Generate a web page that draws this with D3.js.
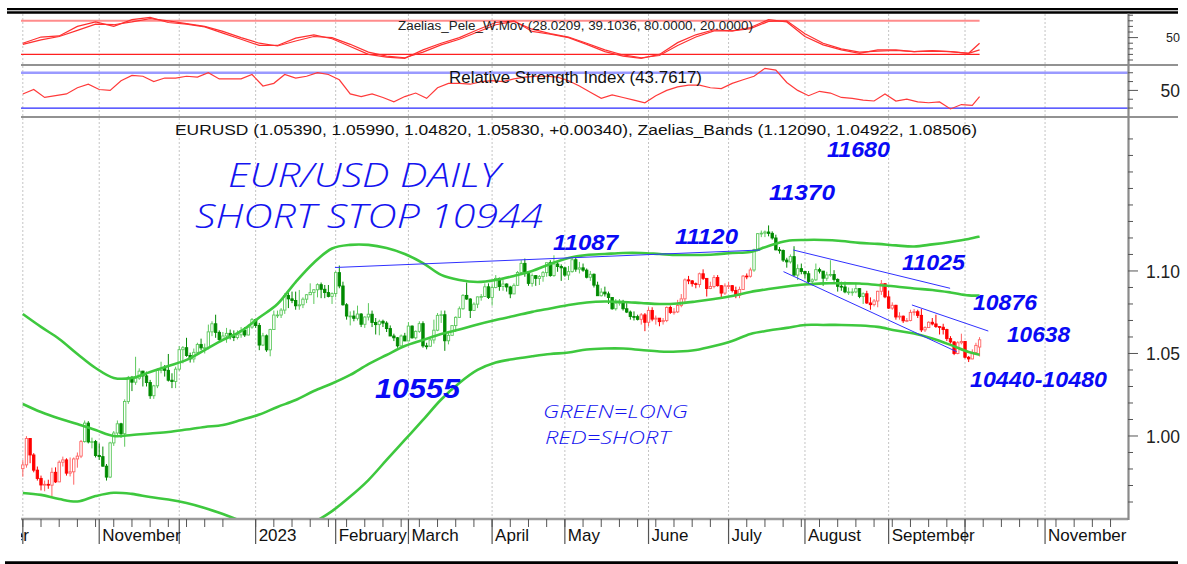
<!DOCTYPE html>
<html>
<head>
<meta charset="utf-8">
<script src="https://cdn.jsdelivr.net/npm/d3@7"></script>
<style>
  html, body { margin: 0; padding: 0; background: #fff; }
  svg { display: block; font-family: Arial, "Liberation Sans", sans-serif; }
</style>
</head>
<body>
<svg id="chart" width="1187" height="564"></svg>
<script>
// ---- data (prices in pips: 10583 = 1.0583) ----
const firstBarDay = "2022-10-03";
const holidays = ["2022-12-26"];

const opens = [
  9802,9825,9985,9885,9793,9743,9703,9707,9702,9780,9722,9841,9855,9775,9783,9861,9878,9966,10078,9964,9966,
  9882,9875,9817,9751,9958,10018,10074,10014,10209,10355,10326,10350,10393,10364,10324,10244,10304,10397,10408,10398,10338,10330,
  10405,10523,10535,10488,10467,10507,10555,10534,10535,10631,10680,10628,10585,10606,10622,10604,10597,10613,10639,10612,10660,
  10705,10670,10551,10607,10522,10645,10733,10733,10763,10851,10831,10821,10789,10795,10829,10856,10870,10886,10917,10889,10869,10846,
  10863,10990,10909,10795,10727,10727,10713,10739,10677,10721,10738,10688,10675,10695,10684,10651,10606,10595,10546,10606,
  10576,10666,10595,10634,10681,10546,10544,10582,10641,10731,10735,10577,10610,10669,10719,10771,10852,10830,10761,10799,10843,10845,10904,
  10839,10900,10955,10906,10921,10903,10861,10913,10991,11046,10993,10925,10972,10955,10966,10990,11050,10972,11042,11027,
  11019,10975,10996,11068,11011,11019,11005,10962,10980,10914,10850,10872,10861,10839,10771,10805,10815,10771,10751,10724,10723,10707,10734,
  10689,10761,10708,10714,10693,10700,10779,10749,10752,10791,10831,10946,10940,10923,10918,10983,10955,10894,10906,10960,10911,10866,
  10909,10911,10882,10853,10888,10969,10968,11006,11129,11226,11229,11236,11228,11200,11128,11124,11066,11055,11087,10975,11014,
  10997,10983,10937,10946,11008,10999,10956,10976,10979,10949,10907,10903,10873,10873,10873,10893,10846,10862,10806,10796,10818,10877,10923,
  10843,10775,10792,10721,10726,10698,10700,10749,10753,10731,10643,10657,10689,10679,10663,10659,10645,10590,10570,10500,10565,
  10573,10477,10467,10505,10539
];
const highs = [
  9854,9999,9987,9896,9815,9760,9730,9735,9808,9810,9852,9875,9865,9870,9870,9900,9976,10094,10090,9990,9976,
  9954,9936,9830,9965,10030,10094,10080,10222,10364,10364,10480,10410,10395,10390,10340,10310,10410,10450,10430,10497,10380,10420,
  10545,10545,10595,10505,10530,10565,10590,10560,10675,10695,10735,10640,10630,10655,10645,10640,10640,10660,10660,10675,10715,
  10710,10685,10625,10615,10650,10760,10760,10775,10865,10870,10875,10875,10885,10840,10860,10925,10890,10925,10930,10915,10915,10870,
  10998,11033,10935,10805,10755,10760,10790,10745,10725,10805,10760,10715,10705,10705,10695,10670,10620,10600,10615,10625,
  10690,10670,10640,10695,10695,10565,10590,10705,10745,10760,10760,10635,10670,10725,10785,10860,10930,10835,10810,10845,10860,10925,10925,
  10920,10975,10960,10945,10925,10910,10925,11000,11065,11075,10995,10985,10975,10975,11000,11050,11065,11095,11055,11040,
  11025,11030,11080,11090,11055,11045,11015,11000,10985,10935,10895,10905,10875,10840,10830,10830,10825,10805,10760,10755,10735,10745,10745,
  10780,10780,10730,10715,10715,10785,10790,10775,10825,10860,10955,10970,10945,10930,10990,11010,10955,10935,10975,10975,10915,10925,
  10935,10915,10905,10905,10975,10985,11020,11135,11230,11245,11245,11276,11240,11220,11145,11130,11080,11100,11150,11040,11045,
  11000,11000,10955,11045,11020,11000,10995,11065,11005,10955,10935,10935,10900,10895,10930,10895,10870,10880,10840,10830,10880,10945,10925,
  10880,10810,10795,10750,10730,10715,10765,10770,10765,10770,10665,10695,10715,10735,10665,10680,10650,10605,10575,10575,10620,
  10575,10485,10525,10565,10599
];
const lows = [
  9753,9808,9835,9780,9730,9670,9665,9680,9632,9715,9720,9815,9760,9755,9705,9808,9866,9960,9955,9925,9870,
  9855,9815,9730,9745,9940,10005,9990,9935,10195,10272,10310,10340,10300,10300,10225,10225,10290,10380,10360,10330,10290,10290,
  10395,10440,10480,10445,10445,10500,10520,10500,10525,10605,10595,10570,10575,10565,10585,10575,10585,10595,10600,10610,10650,
  10655,10520,10545,10510,10483,10645,10715,10715,10740,10775,10805,10765,10765,10775,10805,10855,10800,10840,10835,10835,10840,10800,
  10840,10895,10790,10705,10670,10695,10700,10660,10655,10700,10660,10615,10610,10660,10630,10605,10575,10535,10535,10575,
  10575,10590,10585,10625,10535,10525,10540,10560,10635,10685,10516,10555,10610,10630,10715,10765,10825,10715,10760,10775,10820,10845,10830,
  10790,10895,10880,10880,10875,10835,10860,10910,10985,10965,10910,10905,10910,10915,10935,10965,10965,10965,10995,10940,
  10965,10945,10990,10995,10985,10995,10955,10940,10900,10850,10845,10845,10800,10765,10760,10790,10760,10745,10705,10700,10700,10675,10635,
  10665,10695,10675,10665,10675,10690,10740,10735,10745,10780,10810,10920,10905,10895,10900,10945,10845,10890,10895,10905,10835,10855,
  10890,10870,10835,10835,10885,10950,10960,10995,11120,11205,11205,11210,11190,11125,11105,11055,11020,11045,10970,10945,10980,
  10955,10915,10910,10940,10985,10910,10940,10965,10935,10875,10880,10865,10855,10850,10865,10835,10800,10800,10765,10785,10780,10855,10835,
  10770,10765,10705,10705,10685,10690,10695,10730,10715,10630,10630,10655,10670,10655,10615,10615,10575,10560,10490,10495,10555,
  10470,10448,10465,10495,10482
];
const closes = [
  9825,9985,9885,9793,9743,9703,9707,9702,9780,9722,9841,9855,9775,9783,9861,9878,9966,10078,9964,9966,9882,
  9875,9817,9751,9958,10018,10074,10014,10209,10355,10326,10350,10393,10364,10324,10244,10304,10397,10408,10398,10338,10330,10405,
  10523,10535,10488,10467,10507,10555,10534,10535,10631,10680,10628,10585,10606,10622,10604,10597,10613,10639,10612,10660,10705,
  10670,10551,10607,10522,10645,10733,10733,10763,10851,10831,10821,10789,10795,10829,10856,10870,10886,10917,10889,10869,10846,10863,
  10990,10909,10795,10727,10727,10713,10739,10677,10721,10738,10688,10675,10695,10684,10651,10606,10595,10546,10606,10576,
  10666,10595,10634,10681,10546,10544,10582,10641,10731,10735,10577,10610,10669,10719,10771,10852,10830,10761,10799,10843,10845,10904,10839,
  10900,10955,10906,10921,10903,10861,10913,10991,11046,10993,10925,10972,10955,10966,10990,11050,10972,11042,11027,11019,
  10975,10996,11068,11011,11019,11005,10962,10980,10914,10850,10872,10861,10839,10771,10805,10815,10771,10751,10724,10723,10707,10734,10689,
  10761,10708,10714,10693,10700,10779,10749,10752,10791,10831,10946,10940,10923,10918,10983,10955,10894,10906,10960,10911,10866,10909,
  10911,10882,10853,10888,10969,10968,11006,11129,11226,11229,11236,11228,11200,11128,11124,11066,11055,11087,10975,11014,10997,
  10983,10937,10946,11008,10999,10956,10976,10979,10949,10907,10903,10873,10873,10873,10893,10846,10862,10806,10796,10818,10877,10923,10843,
  10775,10792,10721,10726,10698,10700,10749,10753,10731,10643,10657,10689,10679,10663,10659,10645,10590,10570,10500,10565,10573,
  10477,10467,10505,10549,10583
];

// signal colouring: green = long, red = short
const signalStarts = ["2022-10-03", "2022-10-26", "2023-05-30", "2023-07-12", "2023-08-24"];
const signalSides = ["short", "long", "short", "long", "short"];

// Zaelias bands, one value every 5 bars (last one on the final bar)
const bandStep = 5;
const bandUpper = [1.0739,1.0661,1.0588,1.0497,1.0412,1.0352,1.0352,1.0388,1.0424,1.0461,
  1.0521,1.0582,1.0636,1.0718,1.0800,1.0933,1.1050,1.1136,1.1158,1.1158,
  1.1139,1.1103,1.1048,1.0976,1.0945,1.0933,1.0945,1.0970,1.1000,1.1042,
  1.1079,1.1097,1.1103,1.1109,1.1109,1.1103,1.1097,1.1097,1.1100,1.1109,
  1.1115,1.1152,1.1182,1.1188,1.1188,1.1182,1.1170,1.1164,1.1155,1.1148,
  1.1161,1.1176,1.1194,1.1209];
const bandMiddle = [1.0194,1.0145,1.0106,1.0073,1.0036,1.0000,1.0006,1.0015,1.0024,1.0039,
  1.0055,1.0067,1.0097,1.0130,1.0176,1.0218,1.0273,1.0318,1.0370,1.0436,
  1.0491,1.0545,1.0582,1.0618,1.0645,1.0676,1.0703,1.0727,1.0752,1.0773,
  1.0794,1.0809,1.0815,1.0812,1.0806,1.0800,1.0803,1.0815,1.0830,1.0848,
  1.0873,1.0891,1.0906,1.0918,1.0925,1.0925,1.0924,1.0915,1.0906,1.0894,
  1.0885,1.0870,1.0852,1.0851];
const bandLower = [0.9655,0.9643,0.9618,0.9603,0.9636,0.9656,0.9649,0.9630,0.9615,0.9594,
  0.9564,0.9527,0.9485,0.9455,0.9442,0.9448,0.9479,0.9545,0.9633,0.9733,
  0.9855,0.9976,1.0097,1.0221,1.0321,1.0400,1.0445,1.0467,1.0483,1.0497,
  1.0506,1.0524,1.0530,1.0530,1.0521,1.0512,1.0512,1.0521,1.0545,1.0576,
  1.0618,1.0639,1.0655,1.0673,1.0673,1.0673,1.0670,1.0661,1.0639,1.0621,
  1.0591,1.0552,1.0509,1.0492];

// Zaelias_Pele_W.Mov, two lines, every 5 bars
const peleFast = [40,51,53,70,78,70,82,86,77,74, 69,58,47,36,36,49,55,48,34,20,
  15,13,28,40,50,64,77,80,61,56, 50,38,25,17,13,20,41,55,64,62,
  68,82,78,52,37,28,22,28,28,25, 27,25,22,40];
const peleSlow = [38,46,52,63,74,73,78,84,80,75, 70,61,50,40,35,44,52,50,38,24,
  17,14,24,37,47,60,73,79,65,57, 51,40,28,19,14,18,36,51,62,62,
  66,79,80,57,40,30,24,26,27,25, 26,25,22,28];
const peleLevels = [80, 20];

// RSI, every 3 bars
const rsiStep = 3;
const rsiValues = [46,51,42,44,46,53,57,51,50,61, 67,66,60,64,64,66,65,70,63,63,
  63,68,55,58,68,64,66,70,68,62, 46,43,46,42,37,43,47,41,53,58,
  58,57,60,61,60,63,65,66,66,65, 61,55,48,41,45,42,39,36,44,50,
  54,56,56,53,52,58,62,66,75,73, 59,50,44,49,47,42,41,39,38,46,
  38,40,37,36,37,29,34,33,43];
const rsiLevels = [70, 30];

// hand drawn trend lines: bar position / price at each end
const trendFrom = [85.8, 211.8, 209.1, 244.4];
const trendFromPrice = [1.1021, 1.1127, 1.0996, 1.0794];
const trendTo = [202.7, 254.9, 256.7, 265.4];
const trendToPrice = [1.1127, 1.0895, 1.0511, 1.0636];

// axis text
const priceLabels = [1.00, 1.05, 1.10];
const hiddenMonthLabels = ["2022-10", "2022-12", "2023-10"];

// headers
const peleTitle = "Zaelias_Pele_W.Mov (28.0209, 39.1036, 80.0000, 20.0000)";
const rsiTitle = "Relative Strength Index (43.7617)";
const mainTitle = "EURUSD (1.05390, 1.05990, 1.04820, 1.05830, +0.00340), Zaelias_Bands (1.12090, 1.04922, 1.08506)";

// annotations written on the chart
const handNotes = ["EUR/USD DAILY", "SHORT STOP 10944", "GREEN=LONG", "RED=SHORT"];
const levelNotes = ["11680", "11370", "11087", "11120", "11025", "10876", "10638", "10440-10480", "10555"];

[opens, highs, lows].forEach(a => { if (a.length !== closes.length) throw new Error("OHLC length mismatch " + a.length); });

// ---- layout ----
const svg = d3.select("#chart");
const plotLeft = 21, plotRight = 1128;
const peleTop = 14, peleBottom = 65, rsiBottom = 117, mainBottom = 519;

// calendar of trading days, index 0 = first bar
const fmtDay = d3.utcFormat("%Y-%m-%d");
const fmtMonth = d3.utcFormat("%Y-%m");
const calendar = d3.utcDay.range(new Date(Date.UTC(2022, 8, 1)), new Date(Date.UTC(2023, 11, 1)))
    .filter(d => d.getUTCDay() % 6 !== 0 && !holidays.includes(fmtDay(d)));
const base = calendar.findIndex(d => fmtDay(d) === firstBarDay);
const idxOf = day => calendar.findIndex(d => fmtDay(d) === day) - base;
const lastBar = closes.length - 1;

const x = d3.scaleLinear().domain([-0.5, 303.8]).range([plotLeft, plotRight]);
const yPrice = d3.scaleLinear().domain([0.9497, 1.1933]).range([mainBottom, rsiBottom]);
const yPele = d3.scaleLinear().domain([0, 100]).range([65.6, 9.6]);
const yRsi = d3.scaleLinear().domain([0, 100]).range([134.55, 46.25]);

const signalIdx = signalStarts.map(idxOf);
const sideOf = i => signalSides[d3.bisectRight(signalIdx, i) - 1];

const bars = closes.map((c, i) => ({
    i, o: opens[i] / 1e4, h: highs[i] / 1e4, l: lows[i] / 1e4, c: c / 1e4, side: sideOf(i)
}));

const candleColor = d => {
    const up = d.c >= d.o;
    if (d.side === "long") return up ? "#5cc85c" : "#008a00";
    return up ? "#ff6464" : "#ff0000";
};

// clip regions
const defs = svg.append("defs");
const addClip = (id, x0, y0, x1, y1) => defs.append("clipPath").attr("id", id)
    .append("rect").attr("x", x0).attr("y", y0).attr("width", x1 - x0).attr("height", y1 - y0);
addClip("clipPele", plotLeft, peleTop, plotRight, peleBottom);
addClip("clipRsi", plotLeft, peleBottom, plotRight, rsiBottom);
addClip("clipMain", plotLeft, rsiBottom, plotRight, mainBottom);
addClip("clipLabels", plotLeft, mainBottom, plotRight + 2, 560);

// month starts and mondays
const monthStarts = calendar.filter((d, k) => k === 0 || d.getUTCMonth() !== calendar[k - 1].getUTCMonth())
    .map(d => ({ d, i: calendar.indexOf(d) - base }));
const mondays = calendar.filter(d => d.getUTCDay() === 1).map(d => calendar.indexOf(d) - base);

// dashed month grid
svg.append("g").selectAll("line")
    .data(monthStarts.filter(m => x(m.i) >= plotLeft && x(m.i) <= plotRight))
    .join("line")
    .attr("x1", m => x(m.i)).attr("x2", m => x(m.i))
    .attr("y1", peleTop).attr("y2", mainBottom)
    .attr("stroke", "#c4c4c4").attr("stroke-width", 1).attr("stroke-dasharray", "2,2");

// ---- Pele panel ----
const gPele = svg.append("g").attr("clip-path", "url(#clipPele)");
const dataEndX = x(lastBar);
gPele.selectAll("line.lvl").data(peleLevels).join("line")
    .attr("x1", plotLeft).attr("x2", dataEndX)
    .attr("y1", d => yPele(d)).attr("y2", d => yPele(d))
    .attr("stroke", d => d === 80 ? "#ff8c8c" : "#ff2020")
    .attr("stroke-width", d => d === 80 ? 2 : 1.3);

const sampleIdx = (k, step) => Math.min(k * step, lastBar);
const peleLine = d3.line().x((v, k) => x(sampleIdx(k, bandStep))).y(v => yPele(v));
[peleSlow, peleFast].forEach(series => {
    gPele.append("path").datum(series)
        .attr("fill", "none").attr("stroke", "#ff3030").attr("stroke-width", 1.2)
        .attr("d", peleLine);
});

// ---- RSI panel ----
const gRsi = svg.append("g").attr("clip-path", "url(#clipRsi)");
gRsi.selectAll("line.lvl").data(rsiLevels).join("line")
    .attr("x1", plotLeft).attr("x2", plotRight)
    .attr("y1", d => yRsi(d)).attr("y2", d => yRsi(d))
    .attr("stroke", d => d === 70 ? "#9a9aff" : "#2a2aff")
    .attr("stroke-width", d => d === 70 ? 2.4 : 1.3);
gRsi.append("path").datum(rsiValues)
    .attr("fill", "none").attr("stroke", "#ff3a3a").attr("stroke-width", 1.2)
    .attr("d", d3.line().x((v, k) => x(sampleIdx(k, rsiStep))).y(v => yRsi(v)));

// ---- main panel ----
const gMain = svg.append("g").attr("clip-path", "url(#clipMain)");
const candles = gMain.selectAll("g.candle").data(bars).join("g").attr("class", "candle");
candles.append("line")
    .attr("x1", d => x(d.i)).attr("x2", d => x(d.i))
    .attr("y1", d => yPrice(d.h)).attr("y2", d => yPrice(d.l))
    .attr("stroke", candleColor).attr("stroke-width", 1);
candles.append("rect")
    .attr("x", d => x(d.i) - 1.2).attr("width", 2.4)
    .attr("y", d => yPrice(Math.max(d.o, d.c)))
    .attr("height", d => Math.max(0.8, Math.abs(yPrice(d.o) - yPrice(d.c))))
    .attr("fill", d => d.c >= d.o ? "#fff" : candleColor(d))
    .attr("stroke", candleColor).attr("stroke-width", 0.9);

const bandLine = d3.line().curve(d3.curveCatmullRom)
    .x((v, k) => x(sampleIdx(k, bandStep))).y(v => yPrice(v));
[bandUpper, bandMiddle, bandLower].forEach(series => {
    gMain.append("path").datum(series)
        .attr("fill", "none").attr("stroke", "#3ec83e").attr("stroke-width", 2.6)
        .attr("d", bandLine);
});

gMain.selectAll("line.trend").data(trendFrom).join("line")
    .attr("x1", (d, k) => x(d)).attr("y1", (d, k) => yPrice(trendFromPrice[k]))
    .attr("x2", (d, k) => x(trendTo[k])).attr("y2", (d, k) => yPrice(trendToPrice[k]))
    .attr("stroke", "#3030ff").attr("stroke-width", 1);

// ---- frames ----
const hline = (y, x1, x2, color, w) => svg.append("line")
    .attr("x1", x1).attr("x2", x2).attr("y1", y).attr("y2", y)
    .attr("stroke", color).attr("stroke-width", w);
hline(9.2, 7, 1178, "#000", 2.3);
hline(12.5, 7, 1178, "#000", 2.3);
hline(65, plotLeft, 1178, "#6e6e6e", 1.5);
hline(117, plotLeft, 1178, "#6e6e6e", 1.5);
hline(mainBottom, plotLeft, plotRight, "#9a9a9a", 2.4);
hline(562.6, 5, 1178, "#000", 2.6);
svg.append("line").attr("x1", plotRight + 0.5).attr("x2", plotRight + 0.5)
    .attr("y1", 13.5).attr("y2", mainBottom + 1)
    .attr("stroke", "#8a8a8a").attr("stroke-width", 2.2);

// ---- right axes ----
const rightTicks = (scale, values, majors) => {
    svg.append("g").selectAll("line").data(values).join("line")
        .attr("x1", plotRight).attr("x2", d => plotRight + (majors.includes(d) ? 10 : 5))
        .attr("y1", d => scale(d)).attr("y2", d => scale(d))
        .attr("stroke", "#555").attr("stroke-width", 1);
};
rightTicks(yPele, d3.range(10, 100, 10), [50]);
rightTicks(yRsi, d3.range(30, 80, 10), [50]);
const priceTicks = d3.range(96, 119).map(v => v / 100);
rightTicks(yPrice, priceTicks, priceLabels);

svg.append("text").attr("x", 1180).attr("y", yPele(50) + 4.6)
    .attr("text-anchor", "end").attr("font-size", 12.5).attr("fill", "#222").text("50");
svg.append("text").attr("x", 1180).attr("y", yRsi(50) + 6.4)
    .attr("text-anchor", "end").attr("font-size", 17.5).attr("fill", "#222").text("50");
svg.append("g").selectAll("text").data(priceLabels).join("text")
    .attr("x", 1180).attr("y", d => yPrice(d) + 7)
    .attr("text-anchor", "end").attr("font-size", 17.5).attr("fill", "#222")
    .text(d => d3.format(".2f")(d));

// ---- bottom axis ----
svg.append("g").selectAll("line").data(mondays.filter(i => x(i) >= plotLeft && x(i) <= plotRight)).join("line")
    .attr("x1", i => x(i)).attr("x2", i => x(i))
    .attr("y1", mainBottom).attr("y2", mainBottom + 8)
    .attr("stroke", "#555").attr("stroke-width", 1);
svg.append("g").selectAll("line").data(monthStarts.filter(m => x(m.i) >= plotLeft - 1 && x(m.i) <= plotRight)).join("line")
    .attr("x1", m => x(m.i)).attr("x2", m => x(m.i))
    .attr("y1", mainBottom).attr("y2", mainBottom + 25)
    .attr("stroke", "#555").attr("stroke-width", 1.2);
svg.append("g").attr("clip-path", "url(#clipLabels)")
    .selectAll("text").data(monthStarts.filter(m => !hiddenMonthLabels.includes(fmtMonth(m.d)) && x(m.i) < plotRight))
    .join("text")
    .attr("x", m => x(m.i) + 3).attr("y", 541)
    .attr("font-size", 17).attr("fill", "#111")
    .text(m => m.d.getUTCMonth() === 0 ? d3.utcFormat("%Y")(m.d) : d3.utcFormat("%B")(m.d));

// ---- titles ----
const fitText = (str, x0, y0, size, len, color) => svg.append("text")
    .attr("x", x0).attr("y", y0).attr("font-size", size).attr("fill", color)
    .attr("textLength", len).attr("lengthAdjust", "spacingAndGlyphs").text(str);
fitText(peleTitle, 398, 30, 12.5, 355, "#222");
fitText(rsiTitle, 449, 83.3, 17, 253, "#111");
fitText(mainTitle, 175, 135, 15.5, 802, "#111");

// ---- annotations ----
const handPos = [[228, 187, 33, 272], [195, 228, 33, 348], [543, 418, 18, 145], [545, 444, 18, 125]];
svg.append("g").selectAll("text").data(handNotes).join("text")
    .attr("x", (d, k) => handPos[k][0]).attr("y", (d, k) => handPos[k][1])
    .attr("font-size", (d, k) => handPos[k][2])
    .attr("textLength", (d, k) => handPos[k][3]).attr("lengthAdjust", "spacingAndGlyphs")
    .attr("font-family", "'Open Sans', 'DejaVu Sans', sans-serif")
    .attr("font-style", "italic").attr("font-weight", 300)
    .attr("fill", "#1414f0").text(d => d);

const levelPos = [[827, 157, 22, 63], [769, 200, 22, 66], [553, 250, 22, 65], [675, 244, 22, 63],
    [902, 270, 22, 63], [973, 310, 22, 64], [1007, 342, 22, 63], [970, 387, 22, 137], [375, 398, 27, 85]];
svg.append("g").selectAll("text").data(levelNotes).join("text")
    .attr("x", (d, k) => levelPos[k][0]).attr("y", (d, k) => levelPos[k][1])
    .attr("font-size", (d, k) => levelPos[k][2])
    .attr("textLength", (d, k) => levelPos[k][3]).attr("lengthAdjust", "spacingAndGlyphs")
    .attr("font-style", "italic").attr("font-weight", "bold")
    .attr("fill", "#0a0af5").text(d => d);
</script>
</body>
</html>
